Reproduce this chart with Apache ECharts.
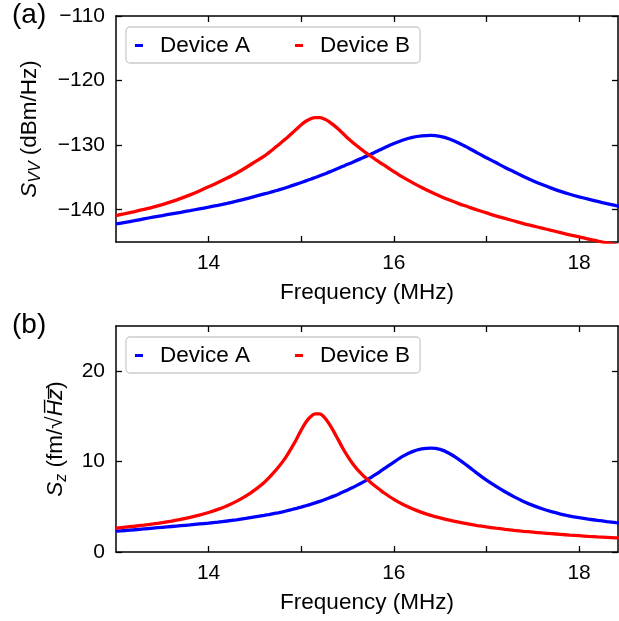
<!DOCTYPE html>
<html>
<head>
<meta charset="utf-8">
<script src="https://cdn.jsdelivr.net/npm/echarts@6/dist/echarts.min.js"></script>
<style>
  html, body { margin: 0; padding: 0; background: #fff; }
  #chart { width: 619px; height: 621px; }
</style>
</head>
<body>
<div id="chart"></div>
<script>
// frequency grid (MHz), shared by all four curves; finer around the Device B peak
const freq = [13.0, 13.1, 13.2, 13.3, 13.4, 13.5, 13.6, 13.7, 13.8, 13.9, 14.0, 14.1, 14.2, 14.3, 14.4, 14.5,
  14.6, 14.65, 14.7, 14.75, 14.8, 14.85, 14.9, 14.95, 15.0, 15.05, 15.1, 15.15, 15.2, 15.25, 15.3, 15.35, 15.4, 15.45,
  15.5, 15.55, 15.6, 15.65, 15.7, 15.75, 15.8, 15.85, 15.9,
  16.0, 16.1, 16.2, 16.3, 16.4, 16.5, 16.6, 16.7, 16.8, 16.9, 17.0, 17.1, 17.2, 17.3, 17.4, 17.5, 17.6, 17.7, 17.8, 17.9,
  18.0, 18.1, 18.2, 18.3, 18.4, 18.5]

// (a) S_vv in dBm/Hz
const svvA = [-142.2, -141.95, -141.7, -141.42, -141.15, -140.9, -140.65, -140.4, -140.14, -139.87, -139.6, -139.32, -139.01, -138.68, -138.33, -137.94,
  -137.56, -137.37, -137.17, -136.96, -136.75, -136.52, -136.27, -136.04, -135.79, -135.53, -135.28, -135.02, -134.75, -134.48, -134.18, -133.89, -133.59, -133.28,
  -132.97, -132.68, -132.36, -132.05, -131.74, -131.41, -131.07, -130.73, -130.39,
  -129.76, -129.21, -128.81, -128.58, -128.5, -128.65, -129.05, -129.65, -130.4, -131.2, -131.95, -132.7, -133.45, -134.15, -134.85, -135.5, -136.1, -136.65, -137.15, -137.6,
  -138.0, -138.37, -138.72, -139.05, -139.37, -139.67]
const svvB = [-140.9, -140.6, -140.28, -139.95, -139.6, -139.2, -138.75, -138.25, -137.7, -137.1, -136.45, -135.8, -135.1, -134.35, -133.5, -132.6,
  -131.7, -131.15, -130.6, -130.0, -129.4, -128.8, -128.15, -127.5, -126.85, -126.3, -125.93, -125.73, -125.73, -125.95, -126.35, -126.9, -127.5, -128.2,
  -128.9, -129.5, -130.1, -130.65, -131.2, -131.7, -132.2, -132.7, -133.15,
  -134.1, -135.0, -135.8, -136.55, -137.25, -137.9, -138.5, -139.05, -139.55, -140.05, -140.5, -140.95, -141.35, -141.75, -142.15, -142.5, -142.85, -143.2, -143.55, -143.9,
  -144.2, -144.55, -144.85, -145.15, -145.45, -145.75]

// (b) S_z in fm/sqrt(Hz)
const szA = [2.30, 2.38, 2.46, 2.55, 2.64, 2.73, 2.82, 2.91, 3.0, 3.1, 3.2, 3.31, 3.43, 3.56, 3.71, 3.88,
  4.05, 4.14, 4.24, 4.34, 4.45, 4.57, 4.7, 4.83, 4.97, 5.12, 5.27, 5.43, 5.6, 5.78, 5.98, 6.18, 6.4, 6.63,
  6.87, 7.11, 7.37, 7.64, 7.92, 8.23, 8.55, 8.9, 9.25,
  9.95, 10.6, 11.1, 11.4, 11.5, 11.35, 10.9, 10.25, 9.5, 8.7, 7.95, 7.28, 6.66, 6.1, 5.6, 5.16, 4.78, 4.46, 4.2, 3.98,
  3.8, 3.64, 3.5, 3.37, 3.26, 3.16]
const szB = [2.65, 2.75, 2.85, 2.97, 3.1, 3.25, 3.42, 3.61, 3.83, 4.08, 4.37, 4.71, 5.12, 5.6, 6.18, 6.88,
  7.7, 8.2, 8.75, 9.35, 10.0, 10.75, 11.6, 12.5, 13.5, 14.35, 14.95, 15.27, 15.27, 14.9, 14.2, 13.35, 12.4, 11.45,
  10.6, 9.85, 9.2, 8.65, 8.15, 7.7, 7.28, 6.88, 6.5,
  5.82, 5.25, 4.78, 4.38, 4.05, 3.77, 3.52, 3.3, 3.1, 2.93, 2.78, 2.64, 2.51, 2.39, 2.29, 2.2, 2.11, 2.03, 1.95, 1.87,
  1.8, 1.73, 1.67, 1.62, 1.57, 1.52]

const xTicks = [14, 15, 16, 17, 18]
const xTickLabels = [14, 16, 18]
const svvTicks = [-140, -130, -120, -110]
const szTicks = [0, 10, 20]

const FONT = 'Liberation Sans, Arial, sans-serif'
const BLUE = '#0000ff'
const RED = '#ff0000'

const chart = echarts.init(document.getElementById('chart'))
const pair = (xs, ys) => xs.map((x, i) => [x, ys[i]])
const minus = v => String(v).replace('-', '\u2212')

const tick = vals => ({ show: true, inside: true, length: 6, customValues: vals, lineStyle: { color: '#000', width: 1.3 } })
const line = { show: true, onZero: false, lineStyle: { color: '#000', width: 1.5 } }

function xAxes(grid) {
  return [{
    type: 'value', gridIndex: grid, position: 'bottom', min: 13, max: 18.42,
    axisLine: line, axisTick: tick(xTicks), splitLine: { show: false },
    axisLabel: { customValues: xTickLabels, fontSize: 21, margin: 11, color: '#000', fontFamily: FONT },
    name: 'Frequency (MHz)', nameLocation: 'middle', nameGap: 39,
    nameTextStyle: { fontSize: 22.5, color: '#000', fontFamily: FONT }
  }, {
    type: 'value', gridIndex: grid, position: 'top', min: 13, max: 18.42,
    axisLine: line, axisTick: tick(xTicks), splitLine: { show: false }, axisLabel: { show: false }
  }]
}

function yAxes(grid, min, max, ticks, name, gap) {
  return [{
    type: 'value', gridIndex: grid, position: 'left', min, max,
    axisLine: line, axisTick: tick(ticks), splitLine: { show: false },
    axisLabel: { customValues: ticks, fontSize: 21, margin: 11, color: '#000', fontFamily: FONT, formatter: minus },
    name, nameLocation: 'middle', nameRotate: 90, nameGap: gap,
    nameTextStyle: { fontSize: 22.5, color: '#000', fontFamily: FONT, rich }
  }, {
    type: 'value', gridIndex: grid, position: 'right', min, max,
    axisLine: line, axisTick: tick(ticks), splitLine: { show: false }, axisLabel: { show: false }
  }]
}

const rich = {
  i: { fontSize: 22.5, fontStyle: 'italic', fontFamily: FONT, color: '#000' },
  s: { fontSize: 16, fontStyle: 'italic', fontFamily: FONT, color: '#000', verticalAlign: 'top', padding: [13, 0, 0, 0] },
  o: { fontSize: 22.5, fontStyle: 'italic', fontFamily: FONT, color: '#000' },
  t: { fontSize: 22.5, fontFamily: FONT, color: '#000' }
}

const legend = top => ({
  data: ['Device A', 'Device B'],
  left: 126, top, orient: 'horizontal',
  icon: 'rect', itemWidth: 8, itemHeight: 3, itemGap: 45,
  padding: [7, 10, 6, 9],
  backgroundColor: 'rgba(255,255,255,0.8)', borderColor: '#cccccc', borderWidth: 1.3, borderRadius: 4,
  textStyle: { fontSize: 22.5, color: '#000', fontFamily: FONT, padding: [0, 0, 0, 12] },
  selectedMode: false
})

const curve = (name, color, xi, yi, data) => ({
  name, type: 'line', xAxisIndex: xi, yAxisIndex: yi, data,
  showSymbol: false, smooth: 0.3, clip: true,
  lineStyle: { color, width: 3.3 }, itemStyle: { color }
})

chart.setOption({
  animation: false,
  backgroundColor: '#fff',
  title: [
    { text: '(a)', left: 12, top: 1, padding: 0, textStyle: { fontSize: 28, fontWeight: 'normal', color: '#000', fontFamily: FONT } },
    { text: '(b)', left: 12, top: 311, padding: 0, textStyle: { fontSize: 28, fontWeight: 'normal', color: '#000', fontFamily: FONT } }
  ],
  grid: [
    { left: 116, right: 1, top: 16, height: 226 },
    { left: 116, right: 1, top: 326, height: 226 }
  ],
  legend: [legend(27), legend(337)],
  xAxis: [...xAxes(0), ...xAxes(1)],
  yAxis: [
    ...yAxes(0, -145, -110, svvTicks, '{i|S}{s|VV}{t| (dBm/Hz)}', 72),
    ...yAxes(1, 0, 25, szTicks, '{i|S}{s|z}{t| (fm/\u221A}{o|H\u0305z\u0305}{t|)}', 46)
  ],
  series: [
    curve('Device A', BLUE, 0, 0, pair(freq, svvA)),
    curve('Device B', RED, 0, 0, pair(freq, svvB)),
    curve('Device A', BLUE, 2, 2, pair(freq, szA)),
    curve('Device B', RED, 2, 2, pair(freq, szB))
  ]
})
</script>
</body>
</html>
